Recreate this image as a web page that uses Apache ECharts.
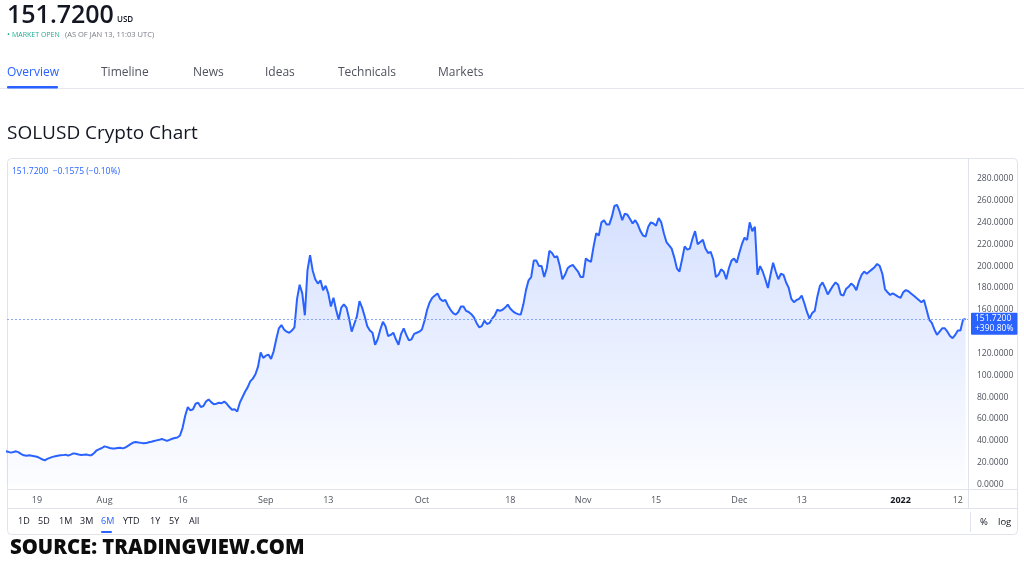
<!DOCTYPE html>
<html>
<head>
<meta charset="utf-8">
<script src="https://cdn.jsdelivr.net/npm/echarts@6/dist/echarts.min.js"></script>
<style>
  html, body { margin: 0; padding: 0; background: #ffffff; }
  #chart { width: 1024px; height: 571px; }
</style>
</head>
<body>
<div id="chart"></div>
<script>
// ---- data (12-hour samples starting 2021-07-13 00:00 UTC) ----
const seriesStart = '2021-07-13T00:00:00Z';
const sampleHours = 12;
const prices = [
  30.5,30, 29.3,29.8, 30.5,29.5, 28,26.8, 26.5,26.8, 26.5,26, 25.5,24.5, 23.2,22.2, 23.5,24.5, 25.4,25.9,
  26.5,26.8, 27,27.4, 26.5,27.5, 28.6,28.2, 27.5,27.2, 27.4,27.6, 27,27, 29,31.4, 32.5,33.5, 35,34.3,
  33.5,33, 33,33.5, 33.8,33.2, 34,35.5, 37,38.5, 39,38.6, 38.2,37.8, 38,38.8, 39.2,39.9, 40.5,41,
  41.8,41, 40,41, 42,42.7, 43.2,45, 52,63, 71,68, 69,74, 75,71, 72,76, 78,75.5,
  73.5,74, 75,74.5, 76,74, 71,68.5, 69,67, 75,80, 85,89, 94.5,97, 101,108, 121,116,
  118,119, 115,122, 133,143, 146,142, 140,139, 141,144, 170,183, 175,155, 196,210, 196,188,
  184,187, 178,182, 175,163, 171,160, 151,162, 165,162, 152,140, 147,154, 168,162, 154,145,
  141,139, 128,133, 142,149, 145,136, 137,139, 133,128, 138,143, 137,132, 133,138, 139,140,
  142,150, 160,167, 171,173, 175,170, 168,169, 164,160, 157,155.6, 158,163, 163,159, 158,156,
  153,148, 144,145, 150,147, 148,152, 155,160, 159,160, 162,164.7, 161,158.6, 157,156, 155.6,165,
  178,187, 190,205, 205,200, 200,190, 198,214, 212,208, 209,200, 188,192, 198,200, 201,198,
  195,190, 190,207, 205,204, 218,230, 228,240, 242,238, 238,245, 255,256, 250,242, 248,247,
  243,239, 242,238, 232,228, 227,236, 240,239, 237,244, 240,230, 222,219, 216,208, 198,195,
  206,218, 215,216, 225,232, 220,222, 224,216, 212,213, 206,190, 192,197, 195,188, 198,205,
  207,203, 212,220, 226,224, 240,232, 236,192, 200,195, 188,180, 192,203, 195,188, 193,192,
  185,180, 170,167, 169,170, 173,166, 158,152, 157,159, 172,182, 185,180, 174,178, 182,185,
  183,174, 173,179, 181,184, 182,178, 186,192, 195,193, 195,197, 199,202, 200,193, 179,176,
  173.6,175, 173.6,172, 171,176, 178,177, 175,173, 171,169, 167,169, 160,151, 148,142, 137,140,
  143,143, 140,136, 134,137, 141,141, 151,151.72
];
const xTickDates = ['2021-07-19','2021-08-01','2021-08-16','2021-09-01','2021-09-13','2021-10-01',
                    '2021-10-18','2021-11-01','2021-11-15','2021-12-01','2021-12-13','2022-01-01','2022-01-12'];
const xTickLabels = ['19','Aug','16','Sep','13','Oct','18','Nov','15','Dec','13','2022','12'];
const yTickStep = 20;
const lastPrice = 151.72;
const changeText = '−0.1575 (−0.10%)';
const pctFromStartText = '+390.80%';
const axisStart = '2021-07-13T06:00:00Z';
const axisEnd = '2022-01-13T23:00:00Z';
const rangeButtons = ['1D','5D','1M','3M','6M','YTD','1Y','5Y','All'];
const tabs = ['Overview','Timeline','News','Ideas','Technicals','Markets'];

// ---- build ----
const t0 = Date.parse(seriesStart);
const lineData = prices.map((v, i) => [t0 + i * sampleHours * 3600 * 1000, v]);
const tickTimes = xTickDates.map(d => Date.parse(d + 'T00:00:00Z'));

const FONT = '"Open Sans", "Noto Sans", sans-serif';
const chart = echarts.init(document.getElementById('chart'), null, { renderer: 'canvas' });

const tabX = [7, 101, 193, 265, 338, 438];
const btnX = [18, 38, 59, 80, 101, 123, 150, 169, 189];
const graphics = [
  { type: 'text', left: 7, top: 3, style: { text: '151.7200', font: '600 25px ' + FONT, fill: '#131722' } },
  { type: 'text', left: 117, top: 16, style: { text: 'USD', font: '600 8px ' + FONT, fill: '#131722' } },
  { type: 'text', left: 7, top: 31, style: { text: '•', font: '8px ' + FONT, fill: '#22ab94' } },
  { type: 'text', left: 12, top: 31.5, style: { text: 'MARKET OPEN', font: '7px ' + FONT, fill: '#22ab94' } },
  { type: 'text', left: 65, top: 31, style: { text: '(AS OF JAN 13, 11:03 UTC)', font: '7.5px ' + FONT, fill: '#787b86' } },
  { type: 'rect', shape: { x: 0, y: 88, width: 1024, height: 1 }, style: { fill: '#e6e8ee' } },
  { type: 'rect', shape: { x: 7, y: 86, width: 51, height: 2.5, r: 1 }, style: { fill: '#2962ff' } },
  { type: 'text', left: 7, top: 124, style: { text: 'SOLUSD Crypto Chart', font: '19px ' + FONT, fill: '#131722' } },
  { type: 'rect', z: -1, shape: { x: 7.5, y: 158.5, width: 1010, height: 376, r: 4 }, style: { fill: 'none', stroke: '#e0e3eb', lineWidth: 1 } },
  { type: 'text', left: 12, top: 167, style: { text: lastPrice.toFixed(4) + '  ' + changeText, font: '8.5px ' + FONT, fill: '#2962ff' } },
  { type: 'line', shape: { x1: 7, y1: 489.5, x2: 1018, y2: 489.5 }, style: { stroke: '#e0e3eb', lineWidth: 1 } },
  { type: 'line', shape: { x1: 7, y1: 508.5, x2: 1018, y2: 508.5 }, style: { stroke: '#e0e3eb', lineWidth: 1 } },
  { type: 'line', shape: { x1: 968.5, y1: 159, x2: 968.5, y2: 508 }, style: { stroke: '#e0e3eb', lineWidth: 1 } },
  { type: 'line', shape: { x1: 970.5, y1: 512, x2: 970.5, y2: 532 }, style: { stroke: '#e0e3eb', lineWidth: 1 } },
  { type: 'text', left: 980, top: 517, style: { text: '%', font: '9.5px ' + FONT, fill: '#131722' } },
  { type: 'text', left: 998, top: 517, style: { text: 'log', font: '9.5px ' + FONT, fill: '#131722' } },
  { type: 'rect', shape: { x: 101, y: 531, width: 11, height: 2, r: 1 }, style: { fill: '#2962ff' } },
  { type: 'text', x: 10, y: 538, scaleX: 0.965, style: { text: 'SOURCE: TRADINGVIEW.COM', font: '800 21px ' + FONT, fill: '#0d0d0d' } }
];
tabs.forEach((t, i) => graphics.push({ type: 'text', left: tabX[i], top: 67,
  style: { text: t, font: '12px ' + FONT, fill: i === 0 ? '#2962ff' : '#50535e' } }));
rangeButtons.forEach((b, i) => graphics.push({ type: 'text', left: btnX[i], top: 517,
  style: { text: b, font: '9px ' + FONT, fill: b === '6M' ? '#2962ff' : '#131722' } }));

const option = {
  animation: false,
  backgroundColor: '#ffffff',
  grid: { left: 7, right: 56, top: 159, bottom: 82, containLabel: false, outerBoundsMode: 'none' },
  xAxis: {
    type: 'value',
    min: Date.parse(axisStart),
    max: Date.parse(axisEnd),
    axisLine: { show: false },
    axisTick: { show: false },
    splitLine: { show: false },
    axisLabel: {
      customValues: tickTimes,
      margin: 7,
      fontFamily: FONT,
      fontSize: 9,
      color: '#50535e',
      formatter: function (val) {
        let best = 0, bd = Infinity;
        tickTimes.forEach((t, i) => { const d = Math.abs(t - val); if (d < bd) { bd = d; best = i; } });
        const s = xTickLabels[best];
        return s === '2022' ? '{b|' + s + '}' : s;
      },
      rich: { b: { fontFamily: FONT, fontSize: 9, fontWeight: 'bold', color: '#131722' } }
    }
  },
  yAxis: {
    type: 'value',
    position: 'right',
    min: -4,
    max: 298,
    interval: 4,
    axisLine: { show: false },
    axisTick: { show: false },
    splitLine: { show: false },
    axisLabel: {
      align: 'left',
      margin: 9,
      fontFamily: FONT,
      fontSize: 8.5,
      color: '#50535e',
      formatter: function (v) {
        return (v >= 0 && Math.abs(v % yTickStep) < 1e-9) ? v.toFixed(4) : '';
      }
    }
  },
  graphic: graphics,
  series: [{
    type: 'line',
    data: lineData,
    showSymbol: false,
    symbol: 'none',
    lineStyle: { color: '#2962ff', width: 2 },
    itemStyle: { color: '#2962ff' },
    areaStyle: {
      color: new echarts.graphic.LinearGradient(0, 0, 0, 1, [
        { offset: 0, color: 'rgba(41,98,255,0.28)' },
        { offset: 1, color: 'rgba(41,98,255,0.02)' }
      ])
    },
    markLine: {
      silent: true,
      symbol: ['none', 'none'],
      lineStyle: { color: '#8aa6f8', type: [2, 2], width: 1, opacity: 1 },
      label: {
        show: true,
        position: 'end',
        distance: 3,
        offset: [0, 5],
        formatter: lastPrice.toFixed(4) + '\n' + pctFromStartText,
        backgroundColor: '#2962ff',
        color: '#ffffff',
        fontFamily: FONT,
        fontSize: 8.5,
        lineHeight: 10,
        padding: [1, 4, 1, 4],
        borderRadius: 1
      },
      data: [{ yAxis: prices[prices.length - 1] }]
    }
  }]
};
chart.setOption(option);
</script>
</body>
</html>
